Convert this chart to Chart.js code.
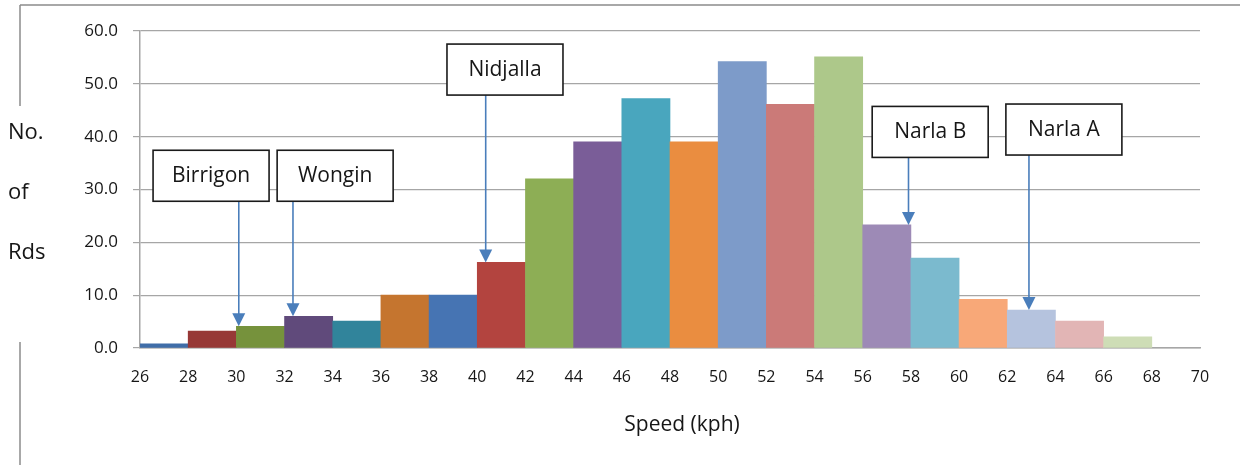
<!DOCTYPE html>
<html>
<head>
<meta charset="utf-8">
<script src="https://cdn.jsdelivr.net/npm/chart.js@4.4.1/dist/chart.umd.min.js"></script>
<style>
  html, body { margin: 0; padding: 0; background: #ffffff; }
  #wrap { width: 1240px; height: 465px; position: relative; }
</style>
</head>
<body>
<div id="wrap"><canvas id="c" width="1240" height="465"></canvas></div>
<script>
// ---- data ----
const binStarts = [26, 28, 30, 32, 34, 36, 38, 40, 42, 44, 46, 48, 50, 52, 54, 56, 58, 60, 62, 64, 66];
const counts    = [0.8, 3.2, 4.1, 6.0, 5.1, 10.0, 10.0, 16.2, 32.0, 39.0, 47.2, 39.0, 54.2, 46.1, 55.1, 23.3, 17.0, 9.2, 7.2, 5.1, 2.1];
const binWidth = 2;
const xTickMin = 26, xTickMax = 70, xTickStep = 2;
const yTickMin = 0, yTickMax = 60, yTickStep = 10;
const yTitleLines = ['No.', 'of', 'Rds'];
const xTitle = 'Speed (kph)';
const annotLabels = ['Birrigon', 'Wongin', 'Nidjalla', 'Narla B', 'Narla A'];
const annotArrowSpeed = [30.1, 32.35, 40.35, 57.9, 62.9];

// ---- styles / placement (not data) ----
const barColors = ['#3F6DA8', '#973836', '#76923C', '#604A7B', '#31849B', '#C5752F', '#4674B3',
  '#B3443F', '#8DAE55', '#7A5D98', '#49A6BE', '#EA8D40', '#7D9BC9', '#CB7A78', '#ADC88A',
  '#9D8AB6', '#7BBACE', '#F8A878', '#B5C3DE', '#E2B5B5', '#CEDDB6'];
const annotBoxCenter = [[28.95, 32.6], [34.1, 32.6], [41.15, 52.7], [58.8, 40.9], [64.35, 41.35]];
const FONT = "'Open Sans', 'Liberation Sans', sans-serif";
const TXT = '#161616';
const GRID = '#A6A6A6';

const points = binStarts.map((s, i) => ({ x: s + binWidth / 2, y: counts[i] }));

const overlay = {
  id: 'overlay',
  afterDraw(chart) {
    const ctx = chart.ctx;
    const xs = chart.scales.x, ys = chart.scales.y;
    ctx.save();
    // outer frame fragments
    ctx.strokeStyle = '#8C8C8C';
    ctx.lineWidth = 1.5;
    ctx.beginPath();
    ctx.moveTo(20, 5); ctx.lineTo(1240, 5);
    ctx.moveTo(20, 5); ctx.lineTo(20, 106);
    ctx.moveTo(20, 342); ctx.lineTo(20, 465);
    ctx.stroke();
    // y title
    ctx.fillStyle = TXT;
    ctx.font = '22px ' + FONT;
    ctx.textAlign = 'left';
    ctx.textBaseline = 'middle';
    const yPos = [133, 193, 253];
    yTitleLines.forEach((t, i) => ctx.fillText(t, 8, yPos[i]));
    // x title
    ctx.textAlign = 'center';
    ctx.font = '21px ' + FONT;
    ctx.fillText(xTitle, 682, 425);
    // annotations
    annotLabels.forEach((lab, i) => {
      const cx = xs.getPixelForValue(annotBoxCenter[i][0]);
      const cy = ys.getPixelForValue(annotBoxCenter[i][1]);
      const w = 116, h = 51;
      const ax = xs.getPixelForValue(annotArrowSpeed[i]);
      const bin = Math.floor((annotArrowSpeed[i] - binStarts[0]) / binWidth);
      const tipY = ys.getPixelForValue(counts[bin]);
      // arrow
      ctx.strokeStyle = '#4A7EBB';
      ctx.fillStyle = '#4A7EBB';
      ctx.lineWidth = 1.6;
      ctx.beginPath();
      ctx.moveTo(ax, cy + h / 2);
      ctx.lineTo(ax, tipY - 10);
      ctx.stroke();
      ctx.beginPath();
      ctx.moveTo(ax - 6.5, tipY - 13);
      ctx.lineTo(ax + 6.5, tipY - 13);
      ctx.lineTo(ax, tipY);
      ctx.closePath();
      ctx.fill();
      // box
      ctx.fillStyle = '#ffffff';
      ctx.fillRect(cx - w / 2, cy - h / 2, w, h);
      ctx.strokeStyle = '#1a1a1a';
      ctx.lineWidth = 1.6;
      ctx.strokeRect(cx - w / 2, cy - h / 2, w, h);
      ctx.fillStyle = TXT;
      ctx.font = '21px ' + FONT;
      ctx.textAlign = 'center';
      ctx.textBaseline = 'middle';
      ctx.fillText(lab, cx, cy);
    });
    ctx.restore();
  }
};

new Chart(document.getElementById('c'), {
  type: 'bar',
  data: {
    datasets: [{
      data: points,
      backgroundColor: barColors,
      borderWidth: 0,
      categoryPercentage: 1.0,
      barPercentage: 1.0
    }]
  },
  options: {
    responsive: false,
    animation: false,
    layout: { padding: { top: 31, right: 40, bottom: 0, left: 0 } },
    plugins: { legend: { display: false }, tooltip: { enabled: false }, title: { display: false } },
    scales: {
      x: {
        type: 'linear',
        min: xTickMin, max: xTickMax,
        offset: false,
        grid: { display: false, offset: false, drawTicks: false },
        border: { display: true, color: GRID, width: 1.5 },
        ticks: {
          stepSize: xTickStep, autoSkip: false, maxRotation: 0, minRotation: 0,
          padding: 20, color: TXT, font: { family: FONT, size: 16 },
          callback: v => String(v)
        },
        afterFit: s => { s.height = 117; }
      },
      y: {
        min: yTickMin, max: yTickMax,
        grid: { color: GRID, lineWidth: 1.2, tickLength: 7, drawTicks: true },
        border: { display: true, color: GRID, width: 1.5 },
        ticks: {
          stepSize: yTickStep, padding: 15, color: TXT, font: { family: FONT, size: 17 },
          callback: v => Number(v).toFixed(1)
        },
        afterFit: s => { s.width = 140; }
      }
    }
  },
  plugins: [overlay]
});
</script>
</body>
</html>
